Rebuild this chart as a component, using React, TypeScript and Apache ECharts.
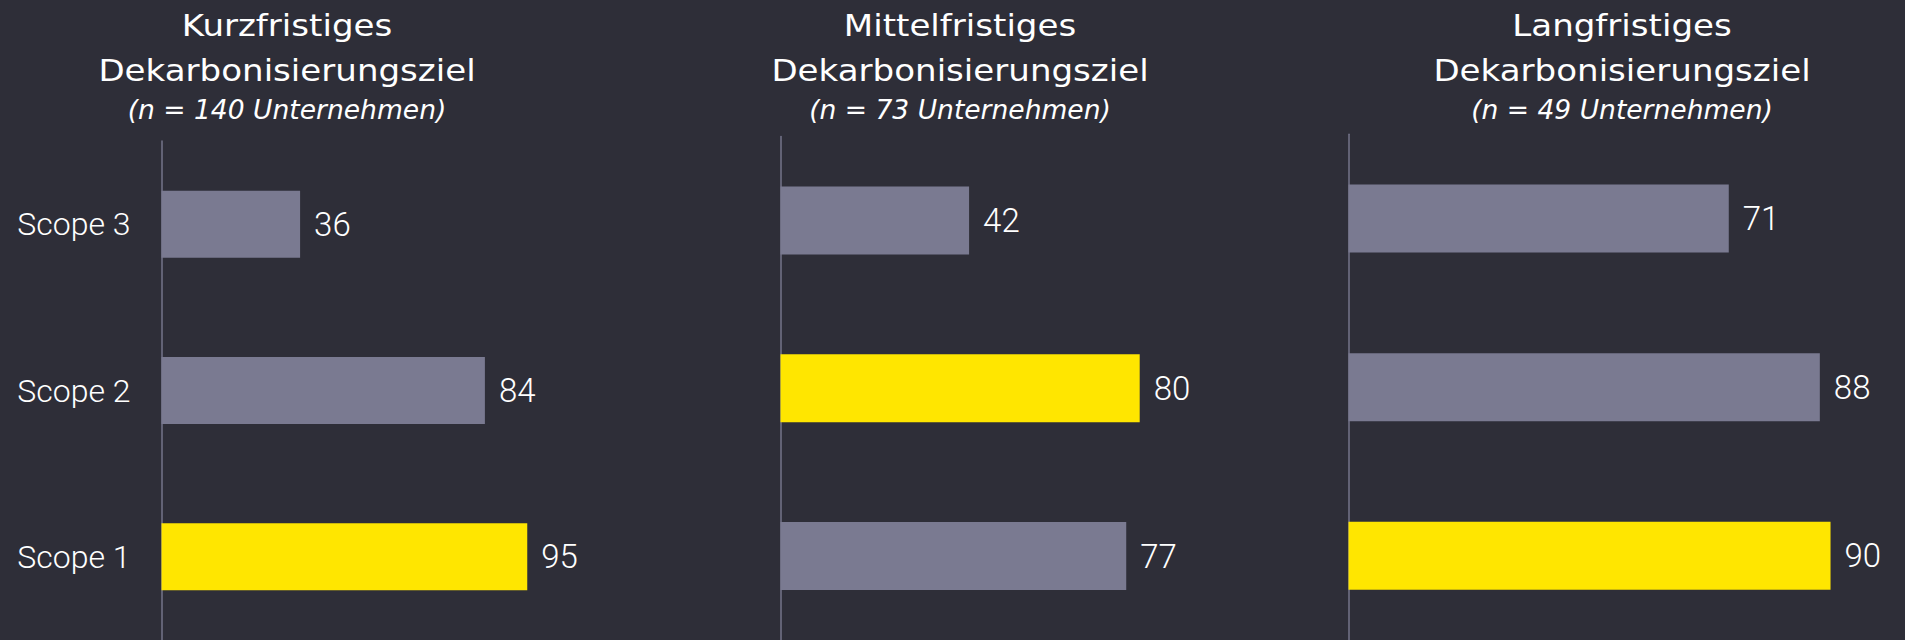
import React, { useEffect, useRef } from "react";
import * as echarts from "echarts";

const categories = ["Scope 1", "Scope 2", "Scope 3"];
const shortTermValues = [95, 84, 36];
const midTermValues = [77, 80, 42];
const longTermValues = [90, 88, 71];
const highlightIndex = [0, 1, 0];
const panelTitles = ["Kurzfristiges", "Mittelfristiges", "Langfristiges"];
const titleLine2 = "Dekarbonisierungsziel";
const sampleSizes = [140, 73, 49];

const BG = "#2e2e38";
const GREY = "#7a7a91";
const YELLOW = "#ffe600";
const LABEL_FONT = "Roboto, 'Noto Sans', sans-serif";
const TITLE_FONT = "'DejaVu Sans', sans-serif";
const TITLE_SIZE = 30;
const SUB_SIZE = 26.5;

function measure(text: string, font: string): number {
  const c = document.createElement("canvas");
  const ctx = c.getContext("2d");
  if (!ctx) return 1;
  ctx.font = font;
  return ctx.measureText(text).width || 1;
}

export default function App() {
  const ref = useRef<HTMLDivElement>(null);

  useEffect(() => {
    if (!ref.current) return;
    const chart = echarts.init(ref.current, null, { renderer: "svg" });

    const panels = [
      { values: shortTermValues, left: 161.5, top: 141, width: 385, height: 502.5, barWidth: 67, cx: 287, showLabels: true },
      { values: midTermValues, left: 780.5, top: 136.5, width: 449, height: 507, barWidth: 68, cx: 960, showLabels: false },
      { values: longTermValues, left: 1348.5, top: 134.3, width: 535.6, height: 508.5, barWidth: 68, cx: 1622, showLabels: false },
    ];

    const titleFont = `${TITLE_SIZE}px ${TITLE_FONT}`;
    const subFont = `italic ${SUB_SIZE}px ${TITLE_FONT}`;
    const titleScale = 377.5 / measure(titleLine2, titleFont);
    const subScale = 302 / measure("(n = 73 Unternehmen)", subFont);

    const graphics: any[] = [];
    panels.forEach((p, i) => {
      graphics.push(
        { type: "text", x: p.cx, y: 25.5, scaleX: titleScale, style: { text: panelTitles[i], fill: "#ffffff", font: titleFont, align: "center", verticalAlign: "middle" } },
        { type: "text", x: p.cx, y: 71, scaleX: titleScale, style: { text: titleLine2, fill: "#ffffff", font: titleFont, align: "center", verticalAlign: "middle" } },
        { type: "text", x: p.cx, y: 109.5, scaleX: subScale, style: { text: `(n = ${sampleSizes[i]} Unternehmen)`, fill: "#ffffff", font: subFont, align: "center", verticalAlign: "middle" } }
      );
    });

    chart.setOption({
      animation: false,
      backgroundColor: BG,
      grid: panels.map((p) => ({ left: p.left, top: p.top, width: p.width, height: p.height, containLabel: false })),
      xAxis: panels.map((p, i) => ({
        type: "value",
        gridIndex: i,
        min: 0,
        max: 100,
        show: false,
      })),
      yAxis: panels.map((p, i) => ({
        type: "category",
        gridIndex: i,
        data: categories,
        axisLine: { show: true, lineStyle: { color: "#74748a", width: 1.5 } },
        axisTick: { show: false },
        splitLine: { show: false },
        axisLabel: {
          show: p.showLabels,
          color: "#ffffff",
          fontSize: 32,
          fontWeight: 300,
          fontFamily: LABEL_FONT,
          margin: 31,
        },
      })),
      series: panels.map((p, i) => ({
        type: "bar",
        xAxisIndex: i,
        yAxisIndex: i,
        barWidth: p.barWidth,
        data: p.values.map((v, j) => ({
          value: v,
          itemStyle: { color: j === highlightIndex[i] ? YELLOW : GREY },
        })),
        label: {
          show: true,
          position: "right",
          distance: 14,
          color: "#ffffff",
          fontSize: 33,
          fontWeight: 300,
          fontFamily: LABEL_FONT,
        },
      })),
      graphic: graphics,
    });

    return () => chart.dispose();
  }, []);

  return (
    <div
      ref={ref}
      style={{ position: "fixed", left: 0, top: 0, width: 1905, height: 640, background: BG }}
    />
  );
}
